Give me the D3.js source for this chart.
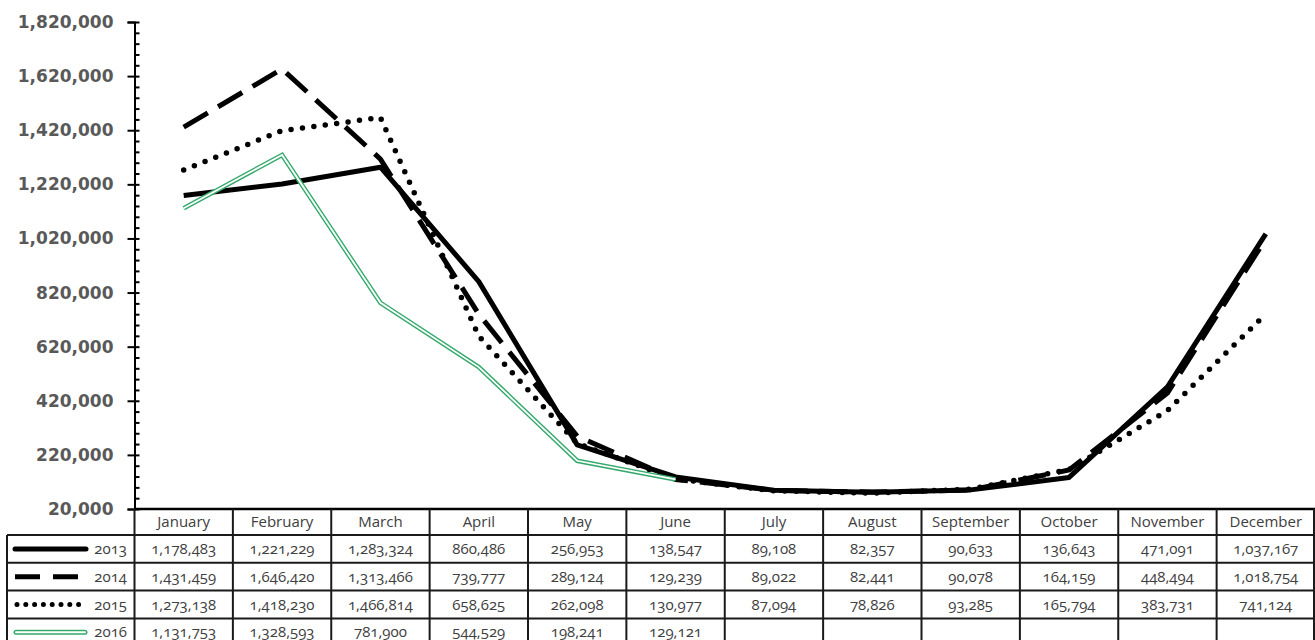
<!DOCTYPE html>
<html>
<head>
<meta charset="utf-8">
<script src="https://cdn.jsdelivr.net/npm/d3@7/dist/d3.min.js"></script>
<style>
  html, body { margin: 0; padding: 0; background: #fff; }
  svg { display: block; }
  .ylab { font-family: "DejaVu Sans", sans-serif; font-weight: bold; font-size: 17px; fill: #595959; }
  .cell { font-family: "Open Sans", sans-serif; font-size: 15px; fill: #404040; font-feature-settings: "onum"; }
</style>
</head>
<body>
<svg id="chart" width="1315" height="640"></svg>
<script>
// Monthly figures per year
const months = ["January", "February", "March", "April", "May", "June",
                "July", "August", "September", "October", "November", "December"];
const years = ["2013", "2014", "2015", "2016"];
const values2013 = [1178483, 1221229, 1283324, 860486, 256953, 138547, 89108, 82357, 90633, 136643, 471091, 1037167];
const values2014 = [1431459, 1646420, 1313466, 739777, 289124, 129239, 89022, 82441, 90078, 164159, 448494, 1018754];
const values2015 = [1273138, 1418230, 1466814, 658625, 262098, 130977, 87094, 78826, 93285, 165794, 383731, 741124];
const values2016 = [1131753, 1328593, 781900, 544529, 198241, 129121];
const yTicks = [20000, 220000, 420000, 620000, 820000, 1020000, 1220000, 1420000, 1620000, 1820000];

const seriesValues = [values2013, values2014, values2015, values2016];

const svg = d3.select("#chart");
const plotLeft = 134.5, plotRight = 1315, plotTop = 22, plotBottom = 509;
const headerH = 26, rowH = 27.8, legendLeft = 7;
const green = "#35A96C";

const x = d3.scaleBand().domain(months).range([plotLeft, plotRight]).paddingInner(0).paddingOuter(0);
const y = d3.scaleLinear().domain([20000, 1820000]).range([plotBottom, plotTop]);
const fmt = d3.format(",");

// Y axis: major ticks with labels
const yAxis = svg.append("g").attr("transform", `translate(${plotLeft},0)`)
  .call(d3.axisLeft(y).tickValues(yTicks).tickFormat(fmt).tickSize(7).tickPadding(14));
yAxis.select(".domain").attr("stroke", "#000").attr("stroke-width", 2);
yAxis.selectAll(".tick line").attr("stroke", "#000").attr("stroke-width", 2).attr("x2", -7).attr("x1", 5);
yAxis.selectAll(".tick text").attr("class", "ylab").attr("fill", null);

// Minor ticks every 40,000 on the inside
const minor = d3.range(20000, 1820001, 40000).filter(v => (v - 20000) % 200000 !== 0);
const yMinor = svg.append("g").attr("transform", `translate(${plotLeft},0)`)
  .call(d3.axisRight(y).tickValues(minor).tickSize(5).tickFormat(""));
yMinor.select(".domain").remove();
yMinor.selectAll(".tick line").attr("stroke", "#000").attr("stroke-width", 2);

// Series lines
const lineGen = d3.line()
  .x((d, i) => x(months[i]) + x.bandwidth() / 2)
  .y(d => y(d));

const plot = svg.append("g");
plot.append("path").datum(values2013).attr("d", lineGen)
  .attr("fill", "none").attr("stroke", "#000").attr("stroke-width", 5).attr("stroke-linejoin", "round");
plot.append("path").datum(values2014).attr("d", lineGen)
  .attr("fill", "none").attr("stroke", "#000").attr("stroke-width", 5).attr("stroke-dasharray", "28,12");
plot.append("path").datum(values2015).attr("d", lineGen)
  .attr("fill", "none").attr("stroke", "#000").attr("stroke-width", 5.5)
  .attr("stroke-linecap", "round").attr("stroke-dasharray", "0,11.5");
plot.append("path").datum(values2016).attr("d", lineGen)
  .attr("fill", "none").attr("stroke", green).attr("stroke-width", 4.6).attr("stroke-linejoin", "miter");
plot.append("path").datum(values2016).attr("d", lineGen)
  .attr("fill", "none").attr("stroke", "#fff").attr("stroke-width", 1.8).attr("stroke-linejoin", "miter");

// Data table
const table = svg.append("g");
const borderColor = "#1a1a1a", borderW = 2;
const rowTops = d3.range(years.length).map(i => plotBottom + headerH + i * rowH);
const tableBottom = plotBottom + headerH + years.length * rowH;

// header texts
table.selectAll("text.head").data(months).join("text")
  .attr("class", "cell")
  .attr("x", d => x(d) + x.bandwidth() / 2)
  .attr("y", plotBottom + headerH / 2 + 5)
  .attr("text-anchor", "middle")
  .text(d => d);

// horizontal lines
table.append("line").attr("x1", plotLeft).attr("x2", plotRight).attr("y1", plotBottom).attr("y2", plotBottom)
  .attr("stroke", "#000").attr("stroke-width", 2.5);
[...rowTops, tableBottom].forEach(yy => {
  table.append("line").attr("x1", legendLeft).attr("x2", plotRight).attr("y1", yy).attr("y2", yy)
    .attr("stroke", borderColor).attr("stroke-width", borderW);
});
// vertical lines
months.forEach(m => {
  table.append("line").attr("x1", x(m)).attr("x2", x(m)).attr("y1", plotBottom).attr("y2", tableBottom)
    .attr("stroke", borderColor).attr("stroke-width", borderW);
});
table.append("line").attr("x1", plotRight - 1).attr("x2", plotRight - 1).attr("y1", plotBottom).attr("y2", tableBottom)
  .attr("stroke", borderColor).attr("stroke-width", borderW);
table.append("line").attr("x1", legendLeft).attr("x2", legendLeft).attr("y1", rowTops[0]).attr("y2", tableBottom)
  .attr("stroke", borderColor).attr("stroke-width", borderW);

// value cells
seriesValues.forEach((vals, r) => {
  table.selectAll(null).data(vals).join("text")
    .attr("class", "cell")
    .attr("x", (d, i) => x(months[i]) + x.bandwidth() / 2)
    .attr("y", rowTops[r] + rowH / 2 + 5)
    .attr("text-anchor", "middle")
    .text(d => fmt(d));
});

// legend keys
const keyX1 = 15, keyX2 = 86;
years.forEach((yr, r) => {
  const cy = rowTops[r] + rowH / 2;
  const g = table.append("g");
  if (r === 0) {
    g.append("line").attr("x1", keyX1).attr("x2", keyX2).attr("y1", cy).attr("y2", cy)
      .attr("stroke", "#000").attr("stroke-width", 5).attr("stroke-linecap", "round");
  } else if (r === 1) {
    g.append("line").attr("x1", keyX1).attr("x2", keyX2).attr("y1", cy).attr("y2", cy)
      .attr("stroke", "#000").attr("stroke-width", 5).attr("stroke-dasharray", "25,13");
  } else if (r === 2) {
    g.append("line").attr("x1", keyX1 + 2).attr("x2", keyX2).attr("y1", cy).attr("y2", cy)
      .attr("stroke", "#000").attr("stroke-width", 5).attr("stroke-linecap", "round").attr("stroke-dasharray", "0,8.8");
  } else {
    g.append("line").attr("x1", keyX1 + 1).attr("x2", keyX2 - 1).attr("y1", cy).attr("y2", cy)
      .attr("stroke", green).attr("stroke-width", 5).attr("stroke-linecap", "round");
    g.append("line").attr("x1", keyX1 + 1).attr("x2", keyX2 - 1).attr("y1", cy).attr("y2", cy)
      .attr("stroke", "#fff").attr("stroke-width", 2).attr("stroke-linecap", "round");
  }
  g.append("text").attr("class", "cell")
    .attr("x", 127).attr("y", cy + 5).attr("text-anchor", "end").text(yr);
});
</script>
</body>
</html>
